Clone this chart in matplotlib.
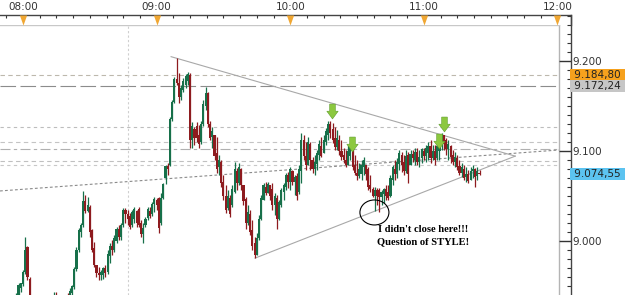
import matplotlib
matplotlib.use("Agg")
import matplotlib.pyplot as plt
from matplotlib.path import Path
from matplotlib.patches import Ellipse
from matplotlib.ticker import MultipleLocator, FixedLocator
import matplotlib.transforms as mtransforms

# ---------------- data ----------------
start_minute = -4  # minutes relative to 08:00 of the first candle (1-minute candles)
opens = [
    8.930, 8.935, 8.940, 8.948, 8.952, 8.966, 8.993, 8.958, 8.938, 8.925,
    8.920, 8.925, 8.918, 8.922, 8.927, 8.924, 8.928, 8.932, 8.935, 8.940,
    8.932, 8.926, 8.929, 8.933, 8.937, 8.935, 8.942, 8.949, 8.969, 8.990,
    9.010, 9.018, 9.045, 9.033, 9.038, 9.012, 8.992, 8.974, 8.965, 8.962,
    8.962, 8.970, 8.966, 8.983, 8.995, 8.990, 9.000, 9.013, 9.005, 9.018,
    9.035, 9.030, 9.028, 9.018, 9.025, 9.034, 9.036, 9.020, 9.008, 9.018,
    9.026, 9.034, 9.030, 9.041, 9.046, 9.048, 9.020, 9.048, 9.070, 9.083,
    9.085, 9.136, 9.155, 9.180, 9.176, 9.160, 9.168, 9.174, 9.178, 9.185,
    9.112, 9.125, 9.128, 9.118, 9.110, 9.130, 9.150, 9.165, 9.130, 9.116,
    9.118, 9.098, 9.082, 9.088, 9.066, 9.050, 9.037, 9.048, 9.040, 9.055,
    9.078, 9.065, 9.080, 9.062, 9.047, 9.020, 9.030, 9.012, 8.998, 8.985,
    9.003, 9.025, 9.046, 9.060, 9.053, 9.062, 9.058, 9.040, 9.048, 9.025,
    9.040, 9.055, 9.060, 9.074, 9.066, 9.078, 9.066, 9.072, 9.055, 9.078,
    9.112, 9.095, 9.085, 9.108, 9.090, 9.080, 9.086, 9.096, 9.106, 9.098,
    9.110, 9.118, 9.130, 9.125, 9.115, 9.105, 9.112, 9.100, 9.096, 9.090,
    9.085, 9.095, 9.105, 9.085, 9.076, 9.072, 9.075, 9.082, 9.085, 9.080,
    9.062, 9.058, 9.050, 9.057, 9.057, 9.049, 9.052, 9.058, 9.055, 9.050,
    9.068, 9.080, 9.075, 9.086, 9.096, 9.088, 9.078, 9.096, 9.085, 9.097,
    9.090, 9.099, 9.088, 9.092, 9.100, 9.095, 9.098, 9.106, 9.092, 9.100,
    9.092, 9.100, 9.110, 9.118, 9.112, 9.102, 9.106, 9.096, 9.088, 9.092,
    9.084, 9.076, 9.080, 9.071, 9.075, 9.068, 9.078, 9.080, 9.072, 9.076,
]
highs = [
    8.938, 8.942, 8.953, 8.954, 8.968, 9.005, 8.995, 8.960, 8.940, 8.932,
    8.928, 8.930, 8.926, 8.930, 8.934, 8.930, 8.936, 8.939, 8.943, 8.944,
    8.937, 8.932, 8.936, 8.940, 8.942, 8.948, 8.951, 8.971, 8.994, 9.015,
    9.020, 9.056, 9.051, 9.049, 9.040, 9.013, 8.999, 8.974, 8.971, 8.968,
    8.971, 8.974, 8.990, 8.998, 9.001, 9.007, 9.016, 9.018, 9.020, 9.037,
    9.037, 9.035, 9.031, 9.035, 9.038, 9.035, 9.038, 9.023, 9.020, 9.027,
    9.038, 9.038, 9.043, 9.049, 9.048, 9.049, 9.053, 9.065, 9.085, 9.087,
    9.138, 9.157, 9.182, 9.203, 9.187, 9.173, 9.181, 9.186, 9.188, 9.187,
    9.132, 9.127, 9.132, 9.129, 9.134, 9.157, 9.171, 9.166, 9.134, 9.127,
    9.118, 9.116, 9.096, 9.090, 9.074, 9.062, 9.057, 9.051, 9.062, 9.088,
    9.081, 9.087, 9.081, 9.062, 9.049, 9.040, 9.035, 9.023, 9.005, 9.009,
    9.029, 9.051, 9.065, 9.066, 9.066, 9.062, 9.065, 9.053, 9.051, 9.046,
    9.059, 9.065, 9.076, 9.077, 9.082, 9.079, 9.074, 9.076, 9.085, 9.120,
    9.118, 9.110, 9.116, 9.110, 9.093, 9.096, 9.101, 9.112, 9.116, 9.118,
    9.126, 9.134, 9.133, 9.131, 9.127, 9.123, 9.118, 9.112, 9.103, 9.101,
    9.107, 9.109, 9.109, 9.096, 9.090, 9.087, 9.090, 9.093, 9.085, 9.082,
    9.074, 9.060, 9.060, 9.059, 9.059, 9.057, 9.059, 9.062, 9.062, 9.074,
    9.085, 9.090, 9.092, 9.101, 9.099, 9.096, 9.101, 9.099, 9.101, 9.101,
    9.104, 9.103, 9.101, 9.104, 9.103, 9.107, 9.110, 9.112, 9.107, 9.107,
    9.112, 9.116, 9.120, 9.118, 9.115, 9.112, 9.107, 9.101, 9.099, 9.096,
    9.090, 9.087, 9.085, 9.082, 9.079, 9.082, 9.085, 9.081, 9.082, 9.079,
]
lows = [
    8.925, 8.930, 8.936, 8.943, 8.950, 8.964, 8.957, 8.930, 8.922, 8.915,
    8.912, 8.915, 8.910, 8.918, 8.920, 8.916, 8.922, 8.926, 8.930, 8.928,
    8.922, 8.918, 8.924, 8.928, 8.930, 8.932, 8.939, 8.947, 8.967, 8.988,
    9.005, 9.016, 9.031, 9.032, 9.005, 8.988, 8.971, 8.960, 8.957, 8.957,
    8.958, 8.960, 8.964, 8.976, 8.985, 8.988, 8.998, 9.001, 9.001, 9.016,
    9.020, 9.018, 9.013, 9.016, 9.020, 9.016, 9.016, 9.005, 8.998, 9.016,
    9.024, 9.026, 9.028, 9.032, 9.035, 9.009, 9.018, 9.047, 9.063, 9.074,
    9.084, 9.134, 9.153, 9.173, 9.153, 9.157, 9.166, 9.170, 9.173, 9.104,
    9.104, 9.107, 9.110, 9.104, 9.108, 9.128, 9.146, 9.127, 9.112, 9.104,
    9.090, 9.076, 9.074, 9.060, 9.046, 9.031, 9.035, 9.027, 9.038, 9.053,
    9.057, 9.062, 9.057, 9.040, 9.013, 9.018, 9.007, 8.990, 8.981, 8.985,
    9.001, 9.023, 9.046, 9.051, 9.053, 9.046, 9.035, 9.029, 9.013, 9.023,
    9.038, 9.046, 9.057, 9.059, 9.057, 9.062, 9.051, 9.046, 9.052, 9.065,
    9.090, 9.079, 9.085, 9.079, 9.076, 9.074, 9.079, 9.090, 9.093, 9.098,
    9.107, 9.112, 9.115, 9.109, 9.101, 9.101, 9.096, 9.090, 9.087, 9.082,
    9.085, 9.090, 9.079, 9.074, 9.068, 9.070, 9.068, 9.074, 9.068, 9.057,
    9.055, 9.049, 9.034, 9.040, 9.032, 9.040, 9.042, 9.046, 9.046, 9.049,
    9.062, 9.068, 9.070, 9.079, 9.077, 9.074, 9.076, 9.065, 9.085, 9.088,
    9.085, 9.085, 9.082, 9.087, 9.090, 9.088, 9.090, 9.087, 9.090, 9.085,
    9.090, 9.090, 9.101, 9.101, 9.096, 9.090, 9.087, 9.085, 9.082, 9.079,
    9.074, 9.071, 9.068, 9.066, 9.065, 9.068, 9.070, 9.060, 9.068, 9.073,
]
closes = [
    8.935, 8.940, 8.951, 8.953, 8.966, 8.990, 8.960, 8.938, 8.925, 8.920,
    8.925, 8.918, 8.922, 8.927, 8.924, 8.928, 8.932, 8.935, 8.940, 8.932,
    8.926, 8.929, 8.933, 8.937, 8.935, 8.945, 8.950, 8.969, 8.990, 9.012,
    9.018, 9.045, 9.033, 9.040, 9.010, 8.990, 8.974, 8.965, 8.962, 8.966,
    8.970, 8.965, 8.986, 8.995, 8.990, 9.004, 9.013, 9.005, 9.018, 9.035,
    9.030, 9.025, 9.016, 9.032, 9.036, 9.020, 9.018, 9.008, 9.015, 9.025,
    9.036, 9.028, 9.041, 9.047, 9.040, 9.015, 9.048, 9.063, 9.083, 9.080,
    9.136, 9.155, 9.180, 9.176, 9.160, 9.170, 9.178, 9.184, 9.186, 9.112,
    9.128, 9.115, 9.115, 9.108, 9.130, 9.152, 9.165, 9.130, 9.115, 9.122,
    9.095, 9.080, 9.090, 9.065, 9.050, 9.035, 9.050, 9.030, 9.058, 9.080,
    9.065, 9.082, 9.062, 9.045, 9.020, 9.032, 9.010, 8.995, 8.985, 9.003,
    9.025, 9.048, 9.062, 9.053, 9.063, 9.050, 9.040, 9.050, 9.025, 9.043,
    9.057, 9.062, 9.074, 9.066, 9.080, 9.066, 9.071, 9.050, 9.080, 9.112,
    9.095, 9.085, 9.110, 9.090, 9.080, 9.088, 9.098, 9.108, 9.095, 9.112,
    9.122, 9.130, 9.120, 9.112, 9.105, 9.115, 9.100, 9.093, 9.090, 9.085,
    9.100, 9.105, 9.082, 9.076, 9.072, 9.080, 9.085, 9.090, 9.075, 9.060,
    9.058, 9.050, 9.057, 9.050, 9.049, 9.055, 9.058, 9.050, 9.048, 9.070,
    9.082, 9.075, 9.088, 9.098, 9.085, 9.078, 9.095, 9.075, 9.097, 9.092,
    9.099, 9.088, 9.094, 9.102, 9.095, 9.103, 9.106, 9.092, 9.100, 9.090,
    9.106, 9.112, 9.118, 9.108, 9.102, 9.108, 9.094, 9.088, 9.093, 9.082,
    9.076, 9.082, 9.070, 9.075, 9.067, 9.078, 9.080, 9.071, 9.078, 9.0745,
]

hour_minutes = [0, 60, 120, 180, 240]
hour_labels = ["08:00", "09:00", "10:00", "11:00", "12:00"]

price_ticks = [9.0, 9.1, 9.2]
price_tick_labels = ["9.000", "9.100", "9.200"]

# horizontal levels: (price, color, dash pattern)
level_prices = [9.1848, 9.1722, 9.1267, 9.1100, 9.1020, 9.0890, 9.0850]
level_colors = ["#bdb8ad", "#8c8c8c", "#bdbdbd", "#c4c4c4", "#b0b0b0", "#c0c0c0", "#c8c8c8"]
level_styles = [(0, (4, 3)), (0, (14, 4)), (0, (3, 3)), (0, (4, 3)),
                (0, (9, 3, 3, 3)), (0, (4, 3)), (0, (3, 3))]

# price tags on the right axis
tag_prices = [9.18480, 9.17224, 9.07455]
tag_texts = ["9.184,80", "9.172,24", "9.074,55"]
tag_colors = ["#f6a11d", "#c6c6c6", "#5cc3f0"]

# trend lines (minute, price)
upper_line_m = [66.5, 221.0]
upper_line_p = [9.2050, 9.0945]
lower_line_m = [104.2, 221.0]
lower_line_p = [8.9812, 9.0945]
slope_line_m = [-10.33, 240.6]
slope_line_p = [9.0558, 9.1013]
session_minute = 47.0

# annotations
arrow_m = [138.8, 147.7, 189.0, 186.8]
arrow_p = [9.1447, 9.1080, 9.1302, 9.1113]
circle_m, circle_p = 157.8, 9.0319
note_m = 179.5
note_p = [9.0127, 8.9990]
note_texts = ["I didn't close here!!!", "Question of STYLE!"]

# ---------------- layout ----------------
W, H = 625, 295
PX_PER_MIN = 2.227
PX_PER_PRICE = 900.0
X_LEFT = -10.33
P_BOTTOM = 8.9402

fig = plt.figure(figsize=(W / 100, H / 100), dpi=100)
fig.patch.set_facecolor("white")


def rect(x0, y0, x1, y1):
    return [x0 / W, 1 - y1 / H, (x1 - x0) / W, (y1 - y0) / H]


ax = fig.add_axes(rect(0, 25, 559, 295))
ax_t = fig.add_axes(rect(0, 0, 571, 25))
ax_r = fig.add_axes(rect(559, 15, 571, 295))

ax.set_xlim(X_LEFT, X_LEFT + 559 / PX_PER_MIN)
ax.set_ylim(P_BOTTOM, P_BOTTOM + 270 / PX_PER_PRICE)
ax_t.set_xlim(X_LEFT, X_LEFT + 571 / PX_PER_MIN)
ax_t.set_ylim(25, 0)
ax_r.set_ylim(P_BOTTOM, P_BOTTOM + 280 / PX_PER_PRICE)
ax_r.set_xlim(0, 1)

# main axes frame
for s in ["left", "bottom"]:
    ax.spines[s].set_visible(False)
ax.spines["top"].set_color("#c8c8c8")
ax.spines["right"].set_color("#b4b4b4")
ax.spines["top"].set_linewidth(1.0)
ax.spines["right"].set_linewidth(1.0)
ax.set_xticks([])
ax.set_yticks([])

# level lines and guides
for p, c, ls in zip(level_prices, level_colors, level_styles):
    ax.axhline(p, color=c, lw=0.8, linestyle=ls, zorder=1)
ax.axvline(session_minute, color="#cfcfcf", lw=0.8, linestyle=(0, (2, 2)), zorder=1)
ax.plot(slope_line_m, slope_line_p, color="#8a8a8a", lw=0.8, linestyle=(0, (2.5, 2)), zorder=1)
ax.plot(upper_line_m, upper_line_p, color="#a8a8a8", lw=0.8, zorder=2)
ax.plot(lower_line_m, lower_line_p, color="#a8a8a8", lw=0.8, zorder=2)

# candles
times = list(range(start_minute, start_minute + len(closes)))
up_col, down_col = "#17704a", "#8e1b1f"
cols = [up_col if c >= o else down_col for o, c in zip(opens, closes)]
ax.vlines(times, lows, highs, colors=cols, lw=0.9, zorder=3)
bottoms = [min(o, c) for o, c in zip(opens, closes)]
heights = [max(abs(c - o), 0.0008) for o, c in zip(opens, closes)]
ax.bar(times, heights, bottom=bottoms, width=0.95, color=cols, linewidth=0, zorder=3)

# green arrows
arrow_path = Path([(-0.19, 0.5), (0.19, 0.5), (0.19, 0.02), (0.38, 0.02),
                   (0.0, -0.5), (-0.38, 0.02), (-0.19, 0.02), (-0.19, 0.5)],
                  [Path.MOVETO] + [Path.LINETO] * 6 + [Path.CLOSEPOLY])
ax.scatter(arrow_m, arrow_p, marker=arrow_path, s=115, color="#8cc83f",
           edgecolors="#5f9e2c", linewidths=0.4, zorder=5)

# ellipse
ax.add_patch(Ellipse((circle_m, circle_p), 29 / PX_PER_MIN, 25 / PX_PER_PRICE,
                     fill=False, edgecolor="black", lw=0.8, zorder=6))

for p, t in zip(note_p, note_texts):
    ax.text(note_m, p, t, ha="center", va="center", fontsize=7.6,
            family="Liberation Serif", fontweight="bold", color="black", zorder=7)

# top time axis
for s in ax_t.spines.values():
    s.set_visible(False)
ax_t.set_yticks([])
ax_t.axhline(15, color="#444444", lw=1.0)
ax_t.plot([ax_t.get_xlim()[1]] * 2, [15, 25], color="#444444", lw=1.0, clip_on=False)
ax_t.spines["bottom"].set_position(("data", 15))
ax_t.xaxis.set_major_locator(FixedLocator(hour_minutes))
ax_t.xaxis.set_minor_locator(MultipleLocator(7.5))
ax_t.tick_params(axis="x", which="major", length=0, labelbottom=False)
ax_t.tick_params(axis="x", which="minor", length=2.3, width=0.8, color="#333333", direction="out")
tri_path = Path([(-0.36, 0.5), (0.36, 0.5), (0.0, -0.5), (-0.36, 0.5)],
                [Path.MOVETO, Path.LINETO, Path.LINETO, Path.CLOSEPOLY])
ax_t.scatter(hour_minutes, [20] * len(hour_minutes), marker=tri_path, s=52,
             color="#f0a733", linewidths=0, clip_on=False, zorder=4)
for m, lab in zip(hour_minutes, hour_labels):
    ax_t.text(m, 7, lab, ha="center", va="center", fontsize=7.5, color="#333333",
              family="DejaVu Sans")

# right price axis
for s in ["left", "top", "bottom"]:
    ax_r.spines[s].set_visible(False)
ax_r.spines["right"].set_color("#444444")
ax_r.spines["right"].set_linewidth(1.0)
ax_r.set_xticks([])
ax_r.yaxis.tick_right()
ax_r.set_yticks(price_ticks, price_tick_labels)
ax_r.yaxis.set_minor_locator(MultipleLocator(0.01))
ax_r.tick_params(axis="y", which="major", direction="in", length=8.8, width=1.0,
                 color="#333333", labelsize=7.5, labelcolor="#333333", pad=1.2)
ax_r.tick_params(axis="y", which="minor", direction="in", length=3.0, width=0.8,
                 color="#333333")
ax_r.patch.set_alpha(0)

trans = mtransforms.blended_transform_factory(ax_r.transAxes, ax_r.transData)
for p, t, c in zip(tag_prices, tag_texts, tag_colors):
    ax_r.text(1.0, p, " " + t + " ", transform=trans, ha="left", va="center",
              fontsize=7.5, color="#222222", family="DejaVu Sans", clip_on=False,
              bbox=dict(boxstyle="square,pad=0.12", facecolor=c, edgecolor="none"),
              zorder=8)

fig.savefig("out.png", dpi=100, facecolor="white")
